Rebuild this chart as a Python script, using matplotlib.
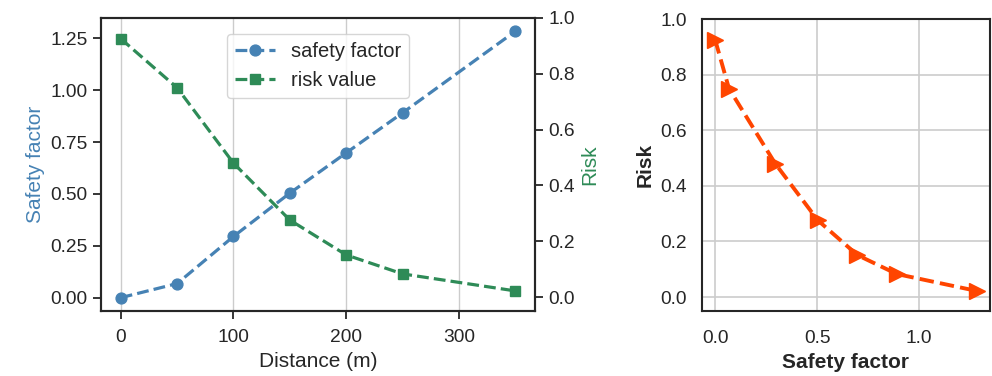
import matplotlib
matplotlib.use("Agg")
import matplotlib.pyplot as plt
import seaborn as sns

distance = [0, 50, 100, 150, 200, 250, 350]
safety_factor = [0.0, 0.068, 0.295, 0.504, 0.698, 0.891, 1.284]
risk_value = [0.926, 0.75, 0.48, 0.276, 0.151, 0.083, 0.022]

sns.set_theme(style="ticks")
plt.rcParams['font.family'] = ['Liberation Sans', 'DejaVu Sans']

TICK = 13.8
LAB = 15

fig = plt.figure(figsize=(9.92, 3.76), dpi=100)
ax1 = fig.add_axes([101/992, 1-311/376, (535-101)/992, (311-18)/376])
ax3 = fig.add_axes([702/992, 1-311/376, (990-702)/992, (311-19)/376])

for sp in ax1.spines.values():
    sp.set_color('#262626'); sp.set_linewidth(1.5)
ax1.grid(axis='x', color='#cccccc', lw=1)
l1, = ax1.plot(distance, safety_factor, '--o', color='steelblue', lw=2.3, ms=7.8, label='safety factor')
ax1.set_xlabel('Distance (m)', fontsize=LAB, labelpad=4)
ax1.set_ylabel('Safety factor', color='steelblue', fontsize=LAB)
ax1.set_yticks([0, 0.25, 0.5, 0.75, 1.0, 1.25])
ax1.set_xticks([0, 100, 200, 300])

ax2 = ax1.twinx()
l2, = ax2.plot(distance, risk_value, '--s', color='seagreen', lw=2.3, ms=7.8, label='risk value')
ax2.set_ylim(-0.05, 1.0)
ax2.set_ylabel('Risk', color='seagreen', fontsize=LAB)
ax2.set_yticks([0, 0.2, 0.4, 0.6, 0.8, 1.0])
for sp in ax2.spines.values():
    sp.set_color('#262626'); sp.set_linewidth(1.5)
ax1.tick_params(labelsize=TICK, width=1.3, length=6)
ax1.tick_params(axis='x', pad=7)
ax2.tick_params(labelsize=TICK, width=1.3, length=6)
ax1.legend([l1, l2], ['safety factor', 'risk value'], loc='upper center',
           bbox_to_anchor=(0.5, 0.98), fontsize=14.5, frameon=True)

ax3.plot(safety_factor, risk_value, '--', marker='>', color='orangered', lw=2.8, ms=12)
ax3.set_ylim(-0.05, 1.0)
ax3.set_xticks([0.0, 0.5, 1.0])
ax3.set_yticks([0.0, 0.2, 0.4, 0.6, 0.8, 1.0])
ax3.grid(True, color='#cccccc', lw=1.2)
ax3.set_axisbelow(True)
ax3.tick_params(labelsize=TICK, length=0, pad=11)
ax3.tick_params(axis='x', pad=14)
for sp in ax3.spines.values():
    sp.set_color('#262626'); sp.set_linewidth(1.5)
ax3.set_xlabel('Safety factor', fontweight='bold', fontsize=LAB, labelpad=4)
ax3.set_ylabel('Risk', fontweight='bold', fontsize=LAB)

fig.savefig('out.png', dpi=100)
